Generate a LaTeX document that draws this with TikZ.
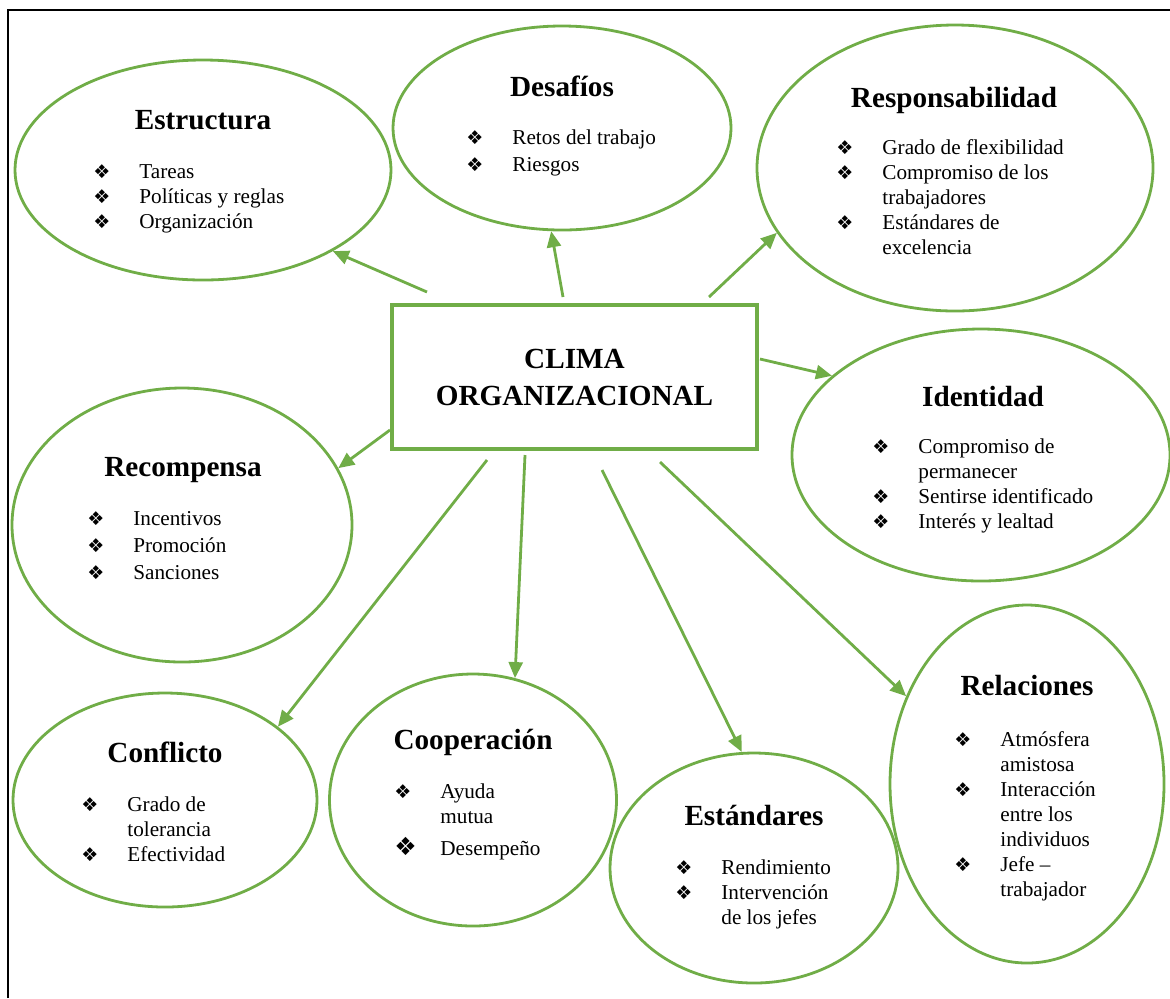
\documentclass[tikz,border=0pt]{standalone}
\usepackage{fontspec}
\setmainfont{Liberation Serif}
\newfontfamily\dingfont{DejaVu Sans}
\usepackage{tikz}
\usetikzlibrary{shapes.geometric,arrows.meta}
\definecolor{leafgreen}{HTML}{70AD47}
\newcommand{\bul}{{\dingfont\fontsize{9.5}{9.5}\selectfont ❖}}
\newcommand{\bigbul}{{\dingfont\fontsize{12.5}{12.5}\selectfont ❖}}
\newcommand{\lista}[1]{\begin{tabular}[t]{@{}p{23pt}@{}l@{}}#1\end{tabular}}

\begin{document}
\begin{tikzpicture}[x=0.5pt,y=-0.5pt,
  bubble/.style={ellipse, draw=leafgreen, line width=1.4pt, inner sep=0pt},
  titulo/.style={anchor=base, inner sep=0pt, font=\bfseries\fontsize{14.6}{16}\selectfont},
  lista/.style={anchor=base west, inner sep=0pt, font=\fontsize{10.6}{12.5}\selectfont},
  flecha/.style={draw=leafgreen, line width=1.4pt, -{Triangle[length=8pt,width=7pt]}}]
\useasboundingbox (0,0) rectangle (1170,998);
\draw[line width=0.8pt] (8,998) -- (8,10) -- (1170,10);

% centro
\node[draw=leafgreen, line width=1.6pt, minimum width=182.5pt, minimum height=72pt,
  align=center, font=\bfseries\fontsize{14.6}{18.5}\selectfont] (clima) at (574.5,377) {CLIMA\\ORGANIZACIONAL};

% elipses
\node[bubble, minimum width=188pt, minimum height=110pt] (estructura) at (203,170) {};
\node[bubble, minimum width=169pt, minimum height=102pt] (desafios) at (562,128) {};
\node[bubble, minimum width=198pt, minimum height=143pt] (responsab) at (955,168) {};
\node[bubble, minimum width=189pt, minimum height=126pt] (identidad) at (981,455) {};
\node[bubble, minimum width=170pt, minimum height=137pt] (recompensa) at (182,525) {};
\node[bubble, minimum width=152pt, minimum height=107pt] (conflicto) at (165,800) {};
\node[bubble, minimum width=143.5pt, minimum height=126pt] (cooperacion) at (473,800) {};
\node[bubble, minimum width=144pt, minimum height=115pt] (estandares) at (754,868) {};
\node[bubble, minimum width=137pt, minimum height=179pt] (relaciones) at (1027,784) {};

% titulos
\node[titulo] (t1) at (203,129) {Estructura};
\node[titulo] (t2) at (562,96) {Desafíos};
\node[titulo] (t3) at (954,107) {Responsabilidad};
\node[titulo] (t4) at (983,406) {Identidad};
\node[titulo] (t5) at (183,476) {Recompensa};
\node[titulo] (t6) at (165,762) {Conflicto};
\node[titulo] (t7) at (473,749) {Cooperación};
\node[titulo] (t8) at (754,825) {Estándares};
\node[titulo] (t9) at (1027,695) {Relaciones};

% listas
\node[lista] (l1) at (93,178.5) {\lista{\bul & Tareas\\ \bul & Políticas y reglas\\ \bul & Organización}};
\node[lista] (l2) at (466,144.5) {\lista{\bul & Retos del trabajo\\[1pt] \bul & Riesgos}};
\node[lista] (l3) at (836,154.5) {\lista{\bul & Grado de flexibilidad\\ \bul & Compromiso de los\\ & trabajadores\\ \bul & Estándares de\\ & excelencia}};
\node[lista] (l4) at (872,453.5) {\lista{\bul & Compromiso de\\ & permanecer\\ \bul & Sentirse identificado\\ \bul & Interés y lealtad}};
\node[lista] (l5) at (87,525.5) {\lista{\bul & Incentivos\\[1pt] \bul & Promoción\\[1pt] \bul & Sanciones}};
\node[lista] (l6) at (81,811.5) {\lista{\bul & Grado de\\ & tolerancia\\ \bul & Efectividad}};
\node[lista] (l7) at (394,798.5) {\lista{\bul & Ayuda\\ & mutua\\[3pt] \bigbul & Desempeño}};
\node[lista] (l8) at (675,874.5) {\lista{\bul & Rendimiento\\ \bul & Intervención\\ & de los jefes}};
\node[lista] (l9) at (954,746.5) {\lista{\bul & Atmósfera\\ & amistosa\\ \bul & Interacción\\ & entre los\\ & individuos\\ \bul & Jefe --\\ & trabajador}};

% flechas
\coordinate (a1) at (427,292);
\coordinate (a2) at (563,297);
\coordinate (a3) at (709,297);
\coordinate (a4) at (760,359);
\coordinate (a5) at (390,430);
\coordinate (a6) at (487,460);
\coordinate (a7) at (525,455);
\coordinate (a8) at (602,470);
\coordinate (a9) at (660,462);
\foreach \a/\b in {a1/estructura.-32, a2/desafios.-96, a3/responsab.-160,
    a4/identidad.152, a5/recompensa.20, a6/conflicto.33, a7/cooperacion.71,
    a8/estandares.96, a9/relaciones.144}
  \draw[flecha] (\a) -- (\b);
\end{tikzpicture}
\end{document}
